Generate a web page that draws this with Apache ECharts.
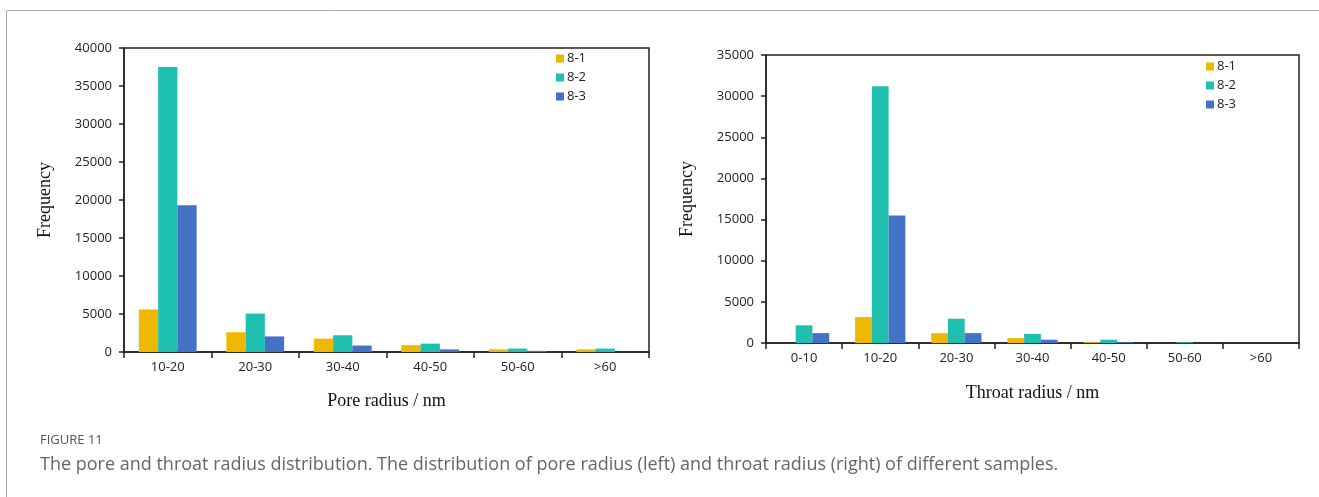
<!DOCTYPE html>
<html><head><meta charset="utf-8">
<script src="https://cdn.jsdelivr.net/npm/echarts@6/dist/echarts.min.js"></script>
<style>html,body{margin:0;padding:0;background:#fff}#c{width:1319px;height:497px}</style>
</head><body><div id="c"></div>
<script>
const seriesNames = ['8-1', '8-2', '8-3'];
const poreCategories = ['10-20', '20-30', '30-40', '40-50', '50-60', '>60'];
const pore81 = [5600, 2600, 1750, 900, 350, 350];
const pore82 = [37500, 5050, 2200, 1100, 450, 450];
const pore83 = [19300, 2050, 850, 350, 150, 0];
const throatCategories = ['0-10', '10-20', '20-30', '30-40', '40-50', '50-60', '>60'];
const throat81 = [0, 3150, 1200, 600, 100, 0, 0];
const throat82 = [2150, 31200, 2950, 1100, 400, 100, 0];
const throat83 = [1200, 15500, 1200, 400, 100, 0, 0];
const captionLabel = 'FIGURE 11';
const captionText = 'The pore and throat radius distribution. The distribution of pore radius (left) and throat radius (right) of different samples.';

const colors = ['#EFB800', '#20C0B0', '#4472C4'];
const tickFont = {fontFamily: 'Open Sans', fontSize: 13, color: '#222'};
const nameFont = {fontFamily: 'Liberation Serif', fontSize: 18, color: '#111'};

function xAx(idx, cats, name, nameGap) {
  return {
    type: 'category', gridIndex: idx, data: cats,
    name: name, nameLocation: 'middle', nameGap: nameGap, nameTextStyle: nameFont,
    axisLine: {lineStyle: {color: '#222', width: 1.5}},
    axisTick: {show: true, inside: false, length: 6, lineStyle: {color: '#222', width: 1.5}},
    axisLabel: Object.assign({margin: 9}, tickFont),
    splitLine: {show: false}
  };
}
function yAx(idx, max, nameGap) {
  return {
    type: 'value', gridIndex: idx, min: 0, max: max, interval: 5000,
    name: 'Frequency', nameLocation: 'middle', nameGap: nameGap, nameTextStyle: nameFont,
    axisLine: {show: true, lineStyle: {color: '#222', width: 1.5}},
    axisTick: {show: true, inside: false, length: 5, lineStyle: {color: '#222', width: 1.5}},
    axisLabel: Object.assign({margin: 12, formatter: v => String(v)}, tickFont),
    splitLine: {show: false}
  };
}
function bars(idx, arrs) {
  return arrs.map((d, i) => ({
    type: 'bar', name: seriesNames[i], xAxisIndex: idx, yAxisIndex: idx, data: d,
    barGap: '0%', barCategoryGap: '34%',
    itemStyle: {color: colors[i]}
  }));
}

const chart = echarts.init(document.getElementById('c'), null, {renderer: 'canvas'});
chart.setOption({
  animation: false,
  backgroundColor: '#fff',
  color: colors,
  grid: [
    {left: 124, right: 670, top: 48, bottom: 145, show: true, borderColor: '#222', borderWidth: 1.5, backgroundColor: 'transparent'},
    {left: 766, right: 20, top: 55, bottom: 154, show: true, borderColor: '#222', borderWidth: 1.5, backgroundColor: 'transparent'}
  ],
  legend: [
    {data: seriesNames, orient: 'vertical', left: 551, top: 47, itemWidth: 8, itemHeight: 8, itemGap: 6,
     icon: 'rect', textStyle: {fontFamily: 'Open Sans', fontSize: 13, color: '#222', padding: [0,0,0,-2]}},
    {data: seriesNames, orient: 'vertical', left: 1201, top: 55, itemWidth: 8, itemHeight: 8, itemGap: 6,
     icon: 'rect', textStyle: {fontFamily: 'Open Sans', fontSize: 13, color: '#222', padding: [0,0,0,-2]}}
  ],
  xAxis: [xAx(0, poreCategories, 'Pore radius / nm', 40), xAx(1, throatCategories, 'Throat radius / nm', 41)],
  yAxis: [yAx(0, 40000, 70), yAx(1, 35000, 70)],
  series: bars(0, [pore81, pore82, pore83]).concat(bars(1, [throat81, throat82, throat83])),
  graphic: [
    {type: 'line', shape: {x1: 6.5, y1: 10.5, x2: 1319, y2: 10.5}, style: {stroke: '#aaa', lineWidth: 1}},
    {type: 'line', shape: {x1: 6.5, y1: 10.5, x2: 6.5, y2: 497}, style: {stroke: '#aaa', lineWidth: 1}},
    {type: 'text', left: 40, top: 434, style: {text: captionLabel, fontFamily: 'Open Sans', fontSize: 13, fill: '#555'}},
    {type: 'text', left: 40, top: 456, style: {text: captionText, fontFamily: 'Open Sans', fontSize: 18, fill: '#666'}}
  ]
});
</script></body></html>
